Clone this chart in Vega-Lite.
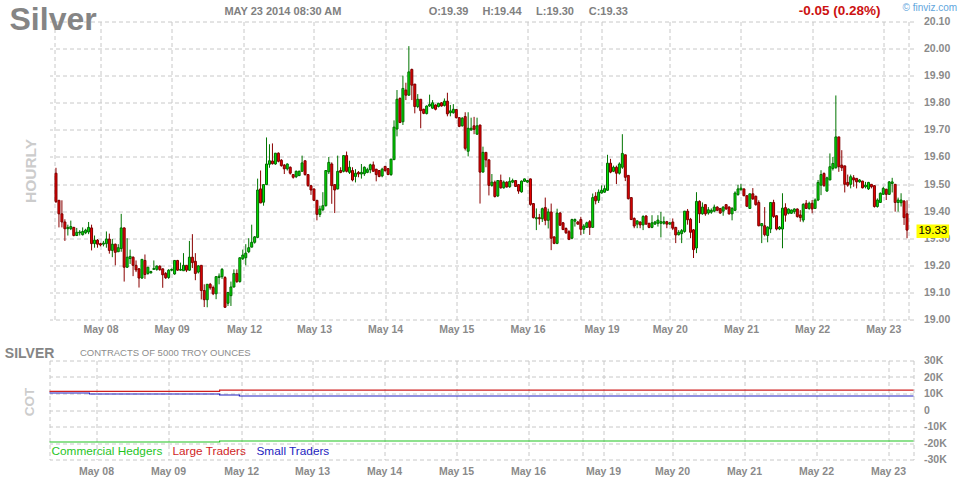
{
  "$schema": "https://vega.github.io/schema/vega-lite/v6.json",
  "background": "white",
  "padding": {"left": 4.5, "top": 2.5, "right": 0, "bottom": 0},
  "config": {
    "view": {"stroke": null},
    "font": "Liberation Sans",
    "axis": {
      "domain": false,
      "ticks": false,
      "gridColor": "#c8c8c8",
      "gridDash": [4, 3],
      "gridWidth": 1,
      "labelFont": "Liberation Sans",
      "labelFontSize": 10.5,
      "labelFontWeight": "bold",
      "labelColor": "#8a8a8a",
      "titleFont": "Liberation Sans"
    }
  },
  "datasets": {
    "bars": [
      {"i":0,"o":19.54,"h":19.56,"l":19.43,"c":19.435},
      {"i":1,"o":19.44,"h":19.44,"l":19.34,"c":19.39},
      {"i":2,"o":19.39,"h":19.44,"l":19.34,"c":19.36},
      {"i":3,"o":19.36,"h":19.37,"l":19.29,"c":19.335},
      {"i":4,"o":19.335,"h":19.35,"l":19.31,"c":19.34},
      {"i":5,"o":19.335,"h":19.365,"l":19.33,"c":19.343},
      {"i":6,"o":19.34,"h":19.342,"l":19.307,"c":19.31},
      {"i":7,"o":19.31,"h":19.338,"l":19.308,"c":19.322},
      {"i":8,"o":19.32,"h":19.33,"l":19.31,"c":19.323},
      {"i":9,"o":19.313,"h":19.34,"l":19.31,"c":19.325},
      {"i":10,"o":19.32,"h":19.335,"l":19.315,"c":19.33},
      {"i":11,"o":19.323,"h":19.36,"l":19.315,"c":19.34},
      {"i":12,"o":19.338,"h":19.35,"l":19.255,"c":19.28},
      {"i":13,"o":19.28,"h":19.31,"l":19.265,"c":19.293},
      {"i":14,"o":19.293,"h":19.297,"l":19.265,"c":19.278},
      {"i":15,"o":19.28,"h":19.283,"l":19.27,"c":19.275},
      {"i":16,"o":19.278,"h":19.29,"l":19.27,"c":19.282},
      {"i":17,"o":19.28,"h":19.325,"l":19.265,"c":19.297},
      {"i":18,"o":19.297,"h":19.317,"l":19.243,"c":19.255},
      {"i":19,"o":19.255,"h":19.297,"l":19.23,"c":19.278},
      {"i":20,"o":19.278,"h":19.28,"l":19.2,"c":19.248},
      {"i":21,"o":19.25,"h":19.278,"l":19.25,"c":19.265},
      {"i":22,"o":19.262,"h":19.39,"l":19.25,"c":19.338},
      {"i":23,"o":19.338,"h":19.34,"l":19.14,"c":19.193},
      {"i":24,"o":19.193,"h":19.3,"l":19.19,"c":19.23},
      {"i":25,"o":19.225,"h":19.258,"l":19.205,"c":19.233},
      {"i":26,"o":19.23,"h":19.233,"l":19.16,"c":19.2},
      {"i":27,"o":19.2,"h":19.218,"l":19.175,"c":19.183},
      {"i":28,"o":19.187,"h":19.19,"l":19.118,"c":19.153},
      {"i":29,"o":19.153,"h":19.222,"l":19.15,"c":19.222},
      {"i":30,"o":19.218,"h":19.24,"l":19.15,"c":19.166},
      {"i":31,"o":19.17,"h":19.194,"l":19.165,"c":19.193},
      {"i":32,"o":19.172,"h":19.18,"l":19.17,"c":19.177},
      {"i":33,"o":19.185,"h":19.218,"l":19.184,"c":19.188},
      {"i":34,"o":19.185,"h":19.2,"l":19.18,"c":19.197},
      {"i":35,"o":19.197,"h":19.2,"l":19.18,"c":19.184},
      {"i":36,"o":19.187,"h":19.188,"l":19.117,"c":19.165},
      {"i":37,"o":19.17,"h":19.175,"l":19.15,"c":19.154},
      {"i":38,"o":19.155,"h":19.186,"l":19.15,"c":19.182},
      {"i":39,"o":19.182,"h":19.188,"l":19.178,"c":19.185},
      {"i":40,"o":19.168,"h":19.218,"l":19.165,"c":19.218},
      {"i":41,"o":19.218,"h":19.22,"l":19.18,"c":19.182},
      {"i":42,"o":19.182,"h":19.21,"l":19.18,"c":19.185},
      {"i":43,"o":19.18,"h":19.245,"l":19.18,"c":19.2},
      {"i":44,"o":19.2,"h":19.2,"l":19.175,"c":19.182},
      {"i":45,"o":19.182,"h":19.29,"l":19.18,"c":19.23},
      {"i":46,"o":19.23,"h":19.315,"l":19.19,"c":19.21},
      {"i":47,"o":19.215,"h":19.245,"l":19.145,"c":19.17},
      {"i":48,"o":19.175,"h":19.2,"l":19.17,"c":19.198},
      {"i":49,"o":19.2,"h":19.2,"l":19.074,"c":19.107},
      {"i":50,"o":19.107,"h":19.13,"l":19.046,"c":19.073},
      {"i":51,"o":19.073,"h":19.13,"l":19.045,"c":19.13},
      {"i":52,"o":19.13,"h":19.135,"l":19.11,"c":19.117},
      {"i":53,"o":19.118,"h":19.125,"l":19.09,"c":19.095},
      {"i":54,"o":19.095,"h":19.16,"l":19.075,"c":19.158},
      {"i":55,"o":19.155,"h":19.17,"l":19.13,"c":19.16},
      {"i":56,"o":19.158,"h":19.19,"l":19.15,"c":19.185},
      {"i":57,"o":19.155,"h":19.16,"l":19.045,"c":19.045},
      {"i":58,"o":19.06,"h":19.1,"l":19.05,"c":19.1},
      {"i":59,"o":19.088,"h":19.14,"l":19.05,"c":19.12},
      {"i":60,"o":19.12,"h":19.185,"l":19.118,"c":19.17},
      {"i":61,"o":19.17,"h":19.185,"l":19.135,"c":19.14},
      {"i":62,"o":19.14,"h":19.228,"l":19.136,"c":19.228},
      {"i":63,"o":19.224,"h":19.258,"l":19.22,"c":19.238},
      {"i":64,"o":19.228,"h":19.278,"l":19.2,"c":19.245},
      {"i":65,"o":19.25,"h":19.3,"l":19.245,"c":19.265},
      {"i":66,"o":19.267,"h":19.35,"l":19.267,"c":19.285},
      {"i":67,"o":19.285,"h":19.308,"l":19.28,"c":19.305},
      {"i":68,"o":19.303,"h":19.52,"l":19.3,"c":19.478},
      {"i":69,"o":19.482,"h":19.55,"l":19.43,"c":19.43},
      {"i":70,"o":19.433,"h":19.498,"l":19.42,"c":19.498},
      {"i":71,"o":19.498,"h":19.672,"l":19.497,"c":19.574},
      {"i":72,"o":19.573,"h":19.647,"l":19.56,"c":19.586},
      {"i":73,"o":19.585,"h":19.65,"l":19.572,"c":19.575},
      {"i":74,"o":19.574,"h":19.614,"l":19.571,"c":19.614},
      {"i":75,"o":19.614,"h":19.617,"l":19.58,"c":19.584},
      {"i":76,"o":19.588,"h":19.592,"l":19.564,"c":19.568},
      {"i":77,"o":19.57,"h":19.574,"l":19.537,"c":19.556},
      {"i":78,"o":19.556,"h":19.576,"l":19.55,"c":19.574},
      {"i":79,"o":19.562,"h":19.565,"l":19.535,"c":19.54},
      {"i":80,"o":19.535,"h":19.537,"l":19.52,"c":19.525},
      {"i":81,"o":19.527,"h":19.55,"l":19.522,"c":19.547},
      {"i":82,"o":19.531,"h":19.55,"l":19.53,"c":19.547},
      {"i":83,"o":19.547,"h":19.605,"l":19.547,"c":19.578},
      {"i":84,"o":19.586,"h":19.586,"l":19.531,"c":19.535},
      {"i":85,"o":19.535,"h":19.535,"l":19.49,"c":19.494},
      {"i":86,"o":19.494,"h":19.494,"l":19.46,"c":19.478},
      {"i":87,"o":19.482,"h":19.482,"l":19.437,"c":19.44},
      {"i":88,"o":19.44,"h":19.44,"l":19.366,"c":19.388},
      {"i":89,"o":19.388,"h":19.42,"l":19.378,"c":19.408},
      {"i":90,"o":19.405,"h":19.47,"l":19.4,"c":19.42},
      {"i":91,"o":19.42,"h":19.55,"l":19.417,"c":19.55},
      {"i":92,"o":19.545,"h":19.6,"l":19.537,"c":19.58},
      {"i":93,"o":19.574,"h":19.58,"l":19.427,"c":19.494},
      {"i":94,"o":19.498,"h":19.498,"l":19.393,"c":19.478},
      {"i":95,"o":19.482,"h":19.605,"l":19.48,"c":19.547},
      {"i":96,"o":19.55,"h":19.562,"l":19.54,"c":19.543},
      {"i":97,"o":19.547,"h":19.605,"l":19.543,"c":19.605},
      {"i":98,"o":19.605,"h":19.62,"l":19.543,"c":19.547},
      {"i":99,"o":19.543,"h":19.586,"l":19.537,"c":19.562},
      {"i":100,"o":19.55,"h":19.562,"l":19.51,"c":19.515},
      {"i":101,"o":19.528,"h":19.555,"l":19.506,"c":19.54},
      {"i":102,"o":19.543,"h":19.548,"l":19.525,"c":19.537},
      {"i":103,"o":19.537,"h":19.574,"l":19.52,"c":19.543},
      {"i":104,"o":19.538,"h":19.565,"l":19.53,"c":19.562},
      {"i":105,"o":19.543,"h":19.56,"l":19.54,"c":19.553},
      {"i":106,"o":19.553,"h":19.575,"l":19.54,"c":19.571},
      {"i":107,"o":19.571,"h":19.583,"l":19.547,"c":19.547},
      {"i":108,"o":19.555,"h":19.555,"l":19.51,"c":19.535},
      {"i":109,"o":19.55,"h":19.55,"l":19.525,"c":19.528},
      {"i":110,"o":19.53,"h":19.56,"l":19.525,"c":19.555},
      {"i":111,"o":19.565,"h":19.567,"l":19.545,"c":19.55},
      {"i":112,"o":19.557,"h":19.558,"l":19.533,"c":19.535},
      {"i":113,"o":19.535,"h":19.592,"l":19.53,"c":19.592},
      {"i":114,"o":19.59,"h":19.735,"l":19.59,"c":19.71},
      {"i":115,"o":19.703,"h":19.847,"l":19.676,"c":19.813},
      {"i":116,"o":19.816,"h":19.82,"l":19.725,"c":19.727},
      {"i":117,"o":19.73,"h":19.9,"l":19.718,"c":19.853},
      {"i":118,"o":19.847,"h":19.874,"l":19.81,"c":19.828},
      {"i":119,"o":19.828,"h":20.009,"l":19.826,"c":19.914},
      {"i":120,"o":19.923,"h":19.926,"l":19.81,"c":19.865},
      {"i":121,"o":19.869,"h":19.869,"l":19.761,"c":19.786},
      {"i":122,"o":19.786,"h":19.832,"l":19.78,"c":19.813},
      {"i":123,"o":19.813,"h":19.813,"l":19.706,"c":19.771},
      {"i":124,"o":19.776,"h":19.778,"l":19.758,"c":19.761},
      {"i":125,"o":19.76,"h":19.79,"l":19.757,"c":19.788},
      {"i":126,"o":19.788,"h":19.83,"l":19.785,"c":19.794},
      {"i":127,"o":19.78,"h":19.81,"l":19.778,"c":19.8},
      {"i":128,"o":19.792,"h":19.794,"l":19.772,"c":19.776},
      {"i":129,"o":19.786,"h":19.8,"l":19.783,"c":19.798},
      {"i":130,"o":19.8,"h":19.802,"l":19.786,"c":19.788},
      {"i":131,"o":19.79,"h":19.816,"l":19.786,"c":19.806},
      {"i":132,"o":19.806,"h":19.837,"l":19.75,"c":19.759},
      {"i":133,"o":19.763,"h":19.792,"l":19.75,"c":19.77},
      {"i":134,"o":19.763,"h":19.795,"l":19.76,"c":19.776},
      {"i":135,"o":19.775,"h":19.776,"l":19.742,"c":19.745},
      {"i":136,"o":19.745,"h":19.747,"l":19.71,"c":19.713},
      {"i":137,"o":19.715,"h":19.747,"l":19.712,"c":19.743},
      {"i":138,"o":19.749,"h":19.765,"l":19.624,"c":19.632},
      {"i":139,"o":19.621,"h":19.765,"l":19.602,"c":19.706},
      {"i":140,"o":19.7,"h":19.745,"l":19.696,"c":19.706},
      {"i":141,"o":19.715,"h":19.748,"l":19.684,"c":19.702},
      {"i":142,"o":19.684,"h":19.745,"l":19.682,"c":19.715},
      {"i":143,"o":19.718,"h":19.718,"l":19.428,"c":19.544},
      {"i":144,"o":19.544,"h":19.638,"l":19.544,"c":19.617},
      {"i":145,"o":19.617,"h":19.617,"l":19.562,"c":19.589},
      {"i":146,"o":19.589,"h":19.592,"l":19.458,"c":19.495},
      {"i":147,"o":19.495,"h":19.537,"l":19.49,"c":19.507},
      {"i":148,"o":19.507,"h":19.513,"l":19.45,"c":19.454},
      {"i":149,"o":19.456,"h":19.513,"l":19.452,"c":19.513},
      {"i":150,"o":19.513,"h":19.535,"l":19.483,"c":19.486},
      {"i":151,"o":19.486,"h":19.513,"l":19.483,"c":19.507},
      {"i":152,"o":19.507,"h":19.51,"l":19.487,"c":19.489},
      {"i":153,"o":19.49,"h":19.525,"l":19.486,"c":19.51},
      {"i":154,"o":19.507,"h":19.52,"l":19.503,"c":19.513},
      {"i":155,"o":19.513,"h":19.514,"l":19.489,"c":19.491},
      {"i":156,"o":19.498,"h":19.5,"l":19.464,"c":19.474},
      {"i":157,"o":19.471,"h":19.513,"l":19.468,"c":19.511},
      {"i":158,"o":19.51,"h":19.52,"l":19.508,"c":19.519},
      {"i":159,"o":19.507,"h":19.515,"l":19.505,"c":19.513},
      {"i":160,"o":19.519,"h":19.52,"l":19.42,"c":19.425},
      {"i":161,"o":19.428,"h":19.43,"l":19.373,"c":19.376},
      {"i":162,"o":19.372,"h":19.41,"l":19.33,"c":19.376},
      {"i":163,"o":19.376,"h":19.39,"l":19.35,"c":19.372},
      {"i":164,"o":19.372,"h":19.413,"l":19.36,"c":19.409},
      {"i":165,"o":19.413,"h":19.45,"l":19.348,"c":19.366},
      {"i":166,"o":19.366,"h":19.409,"l":19.336,"c":19.397},
      {"i":167,"o":19.397,"h":19.428,"l":19.256,"c":19.3},
      {"i":168,"o":19.305,"h":19.306,"l":19.278,"c":19.281},
      {"i":169,"o":19.281,"h":19.409,"l":19.278,"c":19.393},
      {"i":170,"o":19.393,"h":19.397,"l":19.346,"c":19.348},
      {"i":171,"o":19.357,"h":19.36,"l":19.33,"c":19.332},
      {"i":172,"o":19.336,"h":19.34,"l":19.316,"c":19.32},
      {"i":173,"o":19.324,"h":19.33,"l":19.293,"c":19.296},
      {"i":174,"o":19.3,"h":19.372,"l":19.296,"c":19.369},
      {"i":175,"o":19.363,"h":19.373,"l":19.343,"c":19.369},
      {"i":176,"o":19.36,"h":19.364,"l":19.35,"c":19.352},
      {"i":177,"o":19.369,"h":19.379,"l":19.312,"c":19.333},
      {"i":178,"o":19.333,"h":19.352,"l":19.316,"c":19.345},
      {"i":179,"o":19.34,"h":19.361,"l":19.338,"c":19.357},
      {"i":180,"o":19.361,"h":19.367,"l":19.312,"c":19.34},
      {"i":181,"o":19.34,"h":19.465,"l":19.34,"c":19.45},
      {"i":182,"o":19.455,"h":19.47,"l":19.425,"c":19.438},
      {"i":183,"o":19.44,"h":19.48,"l":19.43,"c":19.47},
      {"i":184,"o":19.467,"h":19.495,"l":19.465,"c":19.477},
      {"i":185,"o":19.47,"h":19.495,"l":19.468,"c":19.483},
      {"i":186,"o":19.477,"h":19.608,"l":19.475,"c":19.577},
      {"i":187,"o":19.577,"h":19.593,"l":19.54,"c":19.544},
      {"i":188,"o":19.547,"h":19.568,"l":19.544,"c":19.562},
      {"i":189,"o":19.562,"h":19.568,"l":19.5,"c":19.54},
      {"i":190,"o":19.54,"h":19.58,"l":19.535,"c":19.574},
      {"i":191,"o":19.562,"h":19.684,"l":19.556,"c":19.613},
      {"i":192,"o":19.608,"h":19.608,"l":19.511,"c":19.525},
      {"i":193,"o":19.532,"h":19.533,"l":19.443,"c":19.446},
      {"i":194,"o":19.45,"h":19.451,"l":19.367,"c":19.369},
      {"i":195,"o":19.373,"h":19.377,"l":19.337,"c":19.345},
      {"i":196,"o":19.352,"h":19.366,"l":19.337,"c":19.364},
      {"i":197,"o":19.36,"h":19.362,"l":19.337,"c":19.349},
      {"i":198,"o":19.349,"h":19.385,"l":19.33,"c":19.38},
      {"i":199,"o":19.382,"h":19.385,"l":19.35,"c":19.352},
      {"i":200,"o":19.355,"h":19.357,"l":19.337,"c":19.34},
      {"i":201,"o":19.34,"h":19.385,"l":19.337,"c":19.357},
      {"i":202,"o":19.352,"h":19.364,"l":19.35,"c":19.36},
      {"i":203,"o":19.355,"h":19.385,"l":19.343,"c":19.367},
      {"i":204,"o":19.355,"h":19.397,"l":19.303,"c":19.361},
      {"i":205,"o":19.355,"h":19.38,"l":19.35,"c":19.361},
      {"i":206,"o":19.361,"h":19.364,"l":19.337,"c":19.352},
      {"i":207,"o":19.352,"h":19.36,"l":19.35,"c":19.357},
      {"i":208,"o":19.36,"h":19.373,"l":19.33,"c":19.337},
      {"i":209,"o":19.34,"h":19.342,"l":19.282,"c":19.312},
      {"i":210,"o":19.313,"h":19.33,"l":19.31,"c":19.322},
      {"i":211,"o":19.317,"h":19.334,"l":19.282,"c":19.328},
      {"i":212,"o":19.325,"h":19.4,"l":19.32,"c":19.4},
      {"i":213,"o":19.4,"h":19.408,"l":19.35,"c":19.368},
      {"i":214,"o":19.37,"h":19.375,"l":19.3,"c":19.322},
      {"i":215,"o":19.331,"h":19.334,"l":19.227,"c":19.258},
      {"i":216,"o":19.264,"h":19.47,"l":19.245,"c":19.436},
      {"i":217,"o":19.436,"h":19.44,"l":19.356,"c":19.39},
      {"i":218,"o":19.39,"h":19.432,"l":19.387,"c":19.415},
      {"i":219,"o":19.424,"h":19.425,"l":19.383,"c":19.39},
      {"i":220,"o":19.393,"h":19.415,"l":19.387,"c":19.405},
      {"i":221,"o":19.396,"h":19.41,"l":19.39,"c":19.403},
      {"i":222,"o":19.4,"h":19.424,"l":19.396,"c":19.415},
      {"i":223,"o":19.415,"h":19.418,"l":19.4,"c":19.403},
      {"i":224,"o":19.41,"h":19.411,"l":19.39,"c":19.393},
      {"i":225,"o":19.4,"h":19.418,"l":19.383,"c":19.415},
      {"i":226,"o":19.424,"h":19.425,"l":19.405,"c":19.408},
      {"i":227,"o":19.415,"h":19.418,"l":19.387,"c":19.39},
      {"i":228,"o":19.39,"h":19.415,"l":19.366,"c":19.41},
      {"i":229,"o":19.403,"h":19.473,"l":19.4,"c":19.467},
      {"i":230,"o":19.461,"h":19.497,"l":19.457,"c":19.482},
      {"i":231,"o":19.479,"h":19.5,"l":19.476,"c":19.485},
      {"i":232,"o":19.482,"h":19.483,"l":19.455,"c":19.457},
      {"i":233,"o":19.457,"h":19.458,"l":19.415,"c":19.418},
      {"i":234,"o":19.41,"h":19.464,"l":19.408,"c":19.464},
      {"i":235,"o":19.464,"h":19.485,"l":19.442,"c":19.445},
      {"i":236,"o":19.455,"h":19.457,"l":19.42,"c":19.424},
      {"i":237,"o":19.432,"h":19.44,"l":19.344,"c":19.346},
      {"i":238,"o":19.346,"h":19.355,"l":19.282,"c":19.354},
      {"i":239,"o":19.346,"h":19.415,"l":19.307,"c":19.313},
      {"i":240,"o":19.31,"h":19.344,"l":19.285,"c":19.341},
      {"i":241,"o":19.334,"h":19.432,"l":19.319,"c":19.432},
      {"i":242,"o":19.432,"h":19.442,"l":19.375,"c":19.38},
      {"i":243,"o":19.383,"h":19.384,"l":19.329,"c":19.334},
      {"i":244,"o":19.334,"h":19.345,"l":19.33,"c":19.341},
      {"i":245,"o":19.334,"h":19.466,"l":19.263,"c":19.411},
      {"i":246,"o":19.413,"h":19.429,"l":19.361,"c":19.385},
      {"i":247,"o":19.392,"h":19.41,"l":19.388,"c":19.408},
      {"i":248,"o":19.392,"h":19.406,"l":19.39,"c":19.404},
      {"i":249,"o":19.398,"h":19.41,"l":19.39,"c":19.408},
      {"i":250,"o":19.408,"h":19.41,"l":19.376,"c":19.38},
      {"i":251,"o":19.386,"h":19.404,"l":19.361,"c":19.376},
      {"i":252,"o":19.367,"h":19.429,"l":19.359,"c":19.425},
      {"i":253,"o":19.429,"h":19.441,"l":19.408,"c":19.41},
      {"i":254,"o":19.41,"h":19.435,"l":19.405,"c":19.429},
      {"i":255,"o":19.429,"h":19.441,"l":19.392,"c":19.408},
      {"i":256,"o":19.41,"h":19.447,"l":19.408,"c":19.441},
      {"i":257,"o":19.441,"h":19.515,"l":19.437,"c":19.506},
      {"i":258,"o":19.496,"h":19.551,"l":19.459,"c":19.535},
      {"i":259,"o":19.539,"h":19.543,"l":19.49,"c":19.494},
      {"i":260,"o":19.474,"h":19.527,"l":19.472,"c":19.523},
      {"i":261,"o":19.515,"h":19.613,"l":19.515,"c":19.564},
      {"i":262,"o":19.557,"h":19.6,"l":19.55,"c":19.576},
      {"i":263,"o":19.56,"h":19.827,"l":19.557,"c":19.674},
      {"i":264,"o":19.674,"h":19.674,"l":19.545,"c":19.564},
      {"i":265,"o":19.57,"h":19.625,"l":19.548,"c":19.56},
      {"i":266,"o":19.567,"h":19.568,"l":19.469,"c":19.499},
      {"i":267,"o":19.506,"h":19.535,"l":19.49,"c":19.496},
      {"i":268,"o":19.499,"h":19.535,"l":19.484,"c":19.527},
      {"i":269,"o":19.523,"h":19.533,"l":19.49,"c":19.515},
      {"i":270,"o":19.521,"h":19.522,"l":19.484,"c":19.508},
      {"i":271,"o":19.508,"h":19.518,"l":19.505,"c":19.515},
      {"i":272,"o":19.511,"h":19.512,"l":19.484,"c":19.486},
      {"i":273,"o":19.49,"h":19.508,"l":19.484,"c":19.496},
      {"i":274,"o":19.482,"h":19.508,"l":19.478,"c":19.506},
      {"i":275,"o":19.499,"h":19.5,"l":19.484,"c":19.49},
      {"i":276,"o":19.494,"h":19.495,"l":19.413,"c":19.417},
      {"i":277,"o":19.417,"h":19.447,"l":19.413,"c":19.441},
      {"i":278,"o":19.432,"h":19.469,"l":19.43,"c":19.466},
      {"i":279,"o":19.462,"h":19.49,"l":19.46,"c":19.484},
      {"i":280,"o":19.481,"h":19.482,"l":19.441,"c":19.462},
      {"i":281,"o":19.462,"h":19.511,"l":19.46,"c":19.508},
      {"i":282,"o":19.502,"h":19.523,"l":19.469,"c":19.508},
      {"i":283,"o":19.499,"h":19.5,"l":19.398,"c":19.432},
      {"i":284,"o":19.432,"h":19.45,"l":19.398,"c":19.441},
      {"i":285,"o":19.431,"h":19.466,"l":19.417,"c":19.441},
      {"i":286,"o":19.437,"h":19.441,"l":19.349,"c":19.376},
      {"i":287,"o":19.39,"h":19.44,"l":19.3,"c":19.33}
    ],
    "cot": [
      {"s":"Commercial Hedgers","i":-0.5,"v":-19400},
      {"s":"Commercial Hedgers","i":56.2,"v":-18800},
      {"s":"Commercial Hedgers","i":287.5,"v":-18800},
      {"s":"Large Traders","i":-0.5,"v":11300},
      {"s":"Large Traders","i":56.2,"v":12100},
      {"s":"Large Traders","i":287.5,"v":12100},
      {"s":"Small Traders","i":-0.5,"v":10300},
      {"s":"Small Traders","i":12.8,"v":9700},
      {"s":"Small Traders","i":56.2,"v":9100},
      {"s":"Small Traders","i":62.8,"v":8500},
      {"s":"Small Traders","i":287.5,"v":8500}
    ]
  },
  "bounds": "flush",
  "spacing": 41,
  "resolve": {
    "scale": {"x": "independent", "y": "independent", "color": "independent"},
    "legend": {"color": "independent"}
  },
  "vconcat": [
    {
      "width": 864,
      "height": 298,
      "data": {"name": "bars"},
      "resolve": {"axis": {"y": "independent"}},
      "layer": [
        {
          "mark": {"type": "rule", "strokeWidth": 1},
          "encoding": {
            "x": {
              "field": "i",
              "type": "quantitative",
              "scale": {"domain": [-0.5, 287.5], "nice": false, "zero": false},
              "axis": {
                "title": null,
                "values": [-0.5, 15, 39, 63.4, 87, 111, 135, 159, 177, 184, 207, 231, 255, 279, 287.5],
                "labelExpr": "indexof([15,39,63.4,87,111,135,159,184,207,231,255,279], datum.value) >= 0 ? ['May 08','May 09','May 12','May 13','May 14','May 15','May 16','May 19','May 20','May 21','May 22','May 23'][indexof([15,39,63.4,87,111,135,159,184,207,231,255,279], datum.value)] : ''",
                "labelPadding": 5,
                "labelOverlap": false,
                "labelFlush": false,
                "grid": true
              }
            },
            "y": {
              "field": "l",
              "type": "quantitative",
              "scale": {"domain": [19.0, 20.1], "nice": false, "zero": false},
              "axis": {
                "orient": "right",
                "title": null,
                "values": [19.0, 19.1, 19.2, 19.3, 19.4, 19.5, 19.6, 19.7, 19.8, 19.9, 20.0, 20.1],
                "format": ".2f",
                "labelAlign": "left",
                "labelPadding": 10,
                "grid": true
              }
            },
            "y2": {"field": "h"},
            "color": {"condition": {"test": "datum.c >= datum.o", "value": "#007400"}, "value": "#8a0000"}
          }
        },
        {
          "mark": {"type": "bar", "orient": "vertical", "width": 2, "strokeWidth": 1},
          "encoding": {
            "x": {"field": "i", "type": "quantitative"},
            "y": {
              "field": "o",
              "type": "quantitative",
              "axis": {
                "orient": "left",
                "title": "HOURLY",
                "labels": false,
                "grid": false,
                "titleBaseline": "alphabetic",
                "titleX": -14,
                "titleY": 149,
                "titleFontSize": 15.5,
                "titleFontWeight": "bold",
                "titleColor": "#cccccc"
              }
            },
            "y2": {"field": "c"},
            "fill": {"condition": {"test": "datum.c >= datum.o", "value": "#00e600"}, "value": "#ee0000"},
            "stroke": {"condition": {"test": "datum.c >= datum.o", "value": "#006a00"}, "value": "#7a0000"}
          }
        },
        {
          "data": {"values": [{}]},
          "mark": {"type": "rect", "fill": "#ffff00"},
          "encoding": {
            "x": {"datum": 290.2},
            "x2": {"datum": 301.2},
            "y": {"datum": 19.351, "axis": null},
            "y2": {"datum": 19.301}
          }
        },
        {
          "transform": [{"filter": "datum.i == 287"}],
          "mark": {"type": "text", "align": "center", "baseline": "middle", "fontSize": 11.5, "color": "#000000"},
          "encoding": {
            "x": {"datum": 295.7},
            "y": {"datum": 19.326, "axis": null},
            "text": {"field": "c", "type": "quantitative", "format": ".2f"}
          }
        },
        {
          "data": {"values": [{}]},
          "mark": {"type": "text", "text": "Silver", "align": "left", "baseline": "alphabetic", "dy": 8.5, "fontSize": 32, "fontWeight": "bold", "color": "#858585"},
          "encoding": {"x": {"datum": -15.67}, "y": {"datum": 20.1, "axis": null}}
        },
        {
          "data": {"values": [{}]},
          "mark": {"type": "text", "text": "MAY 23 2014 08:30 AM", "align": "left", "baseline": "middle", "dy": -10, "fontSize": 11, "fontWeight": "bold", "color": "#808080"},
          "encoding": {"x": {"datum": 56.8}, "y": {"datum": 20.1, "axis": null}}
        },
        {
          "data": {"values": [{}]},
          "mark": {"type": "text", "text": "O:19.39", "align": "left", "baseline": "middle", "dy": -10, "fontSize": 11, "fontWeight": "bold", "color": "#808080"},
          "encoding": {"x": {"datum": 125.67}, "y": {"datum": 20.1, "axis": null}}
        },
        {
          "data": {"values": [{}]},
          "mark": {"type": "text", "text": "H:19.44", "align": "left", "baseline": "middle", "dy": -10, "fontSize": 11, "fontWeight": "bold", "color": "#808080"},
          "encoding": {"x": {"datum": 143.8}, "y": {"datum": 20.1, "axis": null}}
        },
        {
          "data": {"values": [{}]},
          "mark": {"type": "text", "text": "L:19.30", "align": "left", "baseline": "middle", "dy": -10, "fontSize": 11, "fontWeight": "bold", "color": "#808080"},
          "encoding": {"x": {"datum": 161.9}, "y": {"datum": 20.1, "axis": null}}
        },
        {
          "data": {"values": [{}]},
          "mark": {"type": "text", "text": "C:19.33", "align": "left", "baseline": "middle", "dy": -10, "fontSize": 11, "fontWeight": "bold", "color": "#808080"},
          "encoding": {"x": {"datum": 179.67}, "y": {"datum": 20.1, "axis": null}}
        },
        {
          "data": {"values": [{}]},
          "mark": {"type": "text", "text": "-0.05 (0.28%)", "align": "left", "baseline": "middle", "dy": -11, "fontSize": 13.5, "fontWeight": "bold", "color": "#cc1111"},
          "encoding": {"x": {"datum": 250.5}, "y": {"datum": 20.1, "axis": null}}
        },
        {
          "data": {"values": [{}]},
          "mark": {"type": "text", "text": "© finviz.com", "align": "left", "baseline": "middle", "dy": -13.5, "fontSize": 10, "color": "#5fa6dd"},
          "encoding": {"x": {"datum": 285.5}, "y": {"datum": 20.1, "axis": null}}
        }
      ]
    },
    {
      "width": 864,
      "height": 99,
      "data": {"name": "cot"},
      "resolve": {"axis": {"y": "independent"}},
      "layer": [
        {
          "mark": {"type": "line", "interpolate": "step-after", "strokeWidth": 1.2},
          "encoding": {
            "x": {
              "field": "i",
              "type": "quantitative",
              "scale": {"domain": [-0.5, 287.5], "nice": false, "zero": false},
              "axis": {
                "title": null,
                "values": [-0.5, 15, 39, 63.4, 87, 111, 135, 159, 177, 184, 207, 231, 255, 279, 287.5],
                "labelExpr": "indexof([15,39,63.4,87,111,135,159,184,207,231,255,279], datum.value) >= 0 ? ['May 08','May 09','May 12','May 13','May 14','May 15','May 16','May 19','May 20','May 21','May 22','May 23'][indexof([15,39,63.4,87,111,135,159,184,207,231,255,279], datum.value)] : ''",
                "labelPadding": 7,
                "labelOverlap": false,
                "labelFlush": false,
                "grid": true
              }
            },
            "y": {
              "field": "v",
              "type": "quantitative",
              "scale": {"domain": [-30000, 30000], "nice": false, "zero": false},
              "axis": {
                "orient": "right",
                "title": null,
                "values": [-30000, -20000, -10000, 0, 10000, 20000, 30000],
                "labelExpr": "datum.value == 0 ? '0' : (datum.value < 0 ? '-' : '') + (abs(datum.value) / 1000) + 'K'",
                "labelAlign": "left",
                "labelPadding": 10,
                "grid": true
              }
            },
            "color": {
              "field": "s",
              "type": "nominal",
              "scale": {
                "domain": ["Commercial Hedgers", "Large Traders", "Small Traders"],
                "range": ["#1fc41f", "#d01f1f", "#2323c0"]
              },
              "legend": {
                "title": null,
                "orient": "bottom-left",
                "direction": "horizontal",
                "offset": 2,
                "padding": 0,
                "symbolSize": 0.01,
                "symbolOpacity": 0,
                "symbolStrokeWidth": 0,
                "labelOffset": -11.8,
                "columnPadding": 10,
                "labelFont": "Liberation Sans",
                "labelFontSize": 11.8,
                "labelLimit": 300,
                "encode": {
                  "labels": {
                    "update": {
                      "fill": {"signal": "datum.value == 'Commercial Hedgers' ? '#1fc41f' : datum.value == 'Large Traders' ? '#d01f1f' : '#2323c0'"}
                    }
                  }
                }
              }
            }
          }
        },
        {
          "data": {"values": [{}]},
          "mark": {"type": "text", "text": "SILVER", "align": "left", "baseline": "alphabetic", "dy": -3, "fontSize": 14, "fontWeight": "bold", "color": "#858585"},
          "encoding": {
            "x": {"datum": -15.4},
            "y": {
              "datum": 30000,
              "axis": {
                "orient": "left",
                "title": "COT",
                "labels": false,
                "grid": false,
                "titleBaseline": "alphabetic",
                "titleX": -16,
                "titleY": 41,
                "titleFontSize": 13.5,
                "titleFontWeight": "bold",
                "titleColor": "#cccccc"
              }
            }
          }
        },
        {
          "data": {"values": [{}]},
          "mark": {"type": "text", "text": "CONTRACTS OF 5000 TROY OUNCES", "align": "left", "baseline": "alphabetic", "dy": -4.3, "fontSize": 9.5, "color": "#8c8c8c"},
          "encoding": {"x": {"datum": 9.67}, "y": {"datum": 30000, "axis": null}}
        }
      ]
    }
  ]
}
